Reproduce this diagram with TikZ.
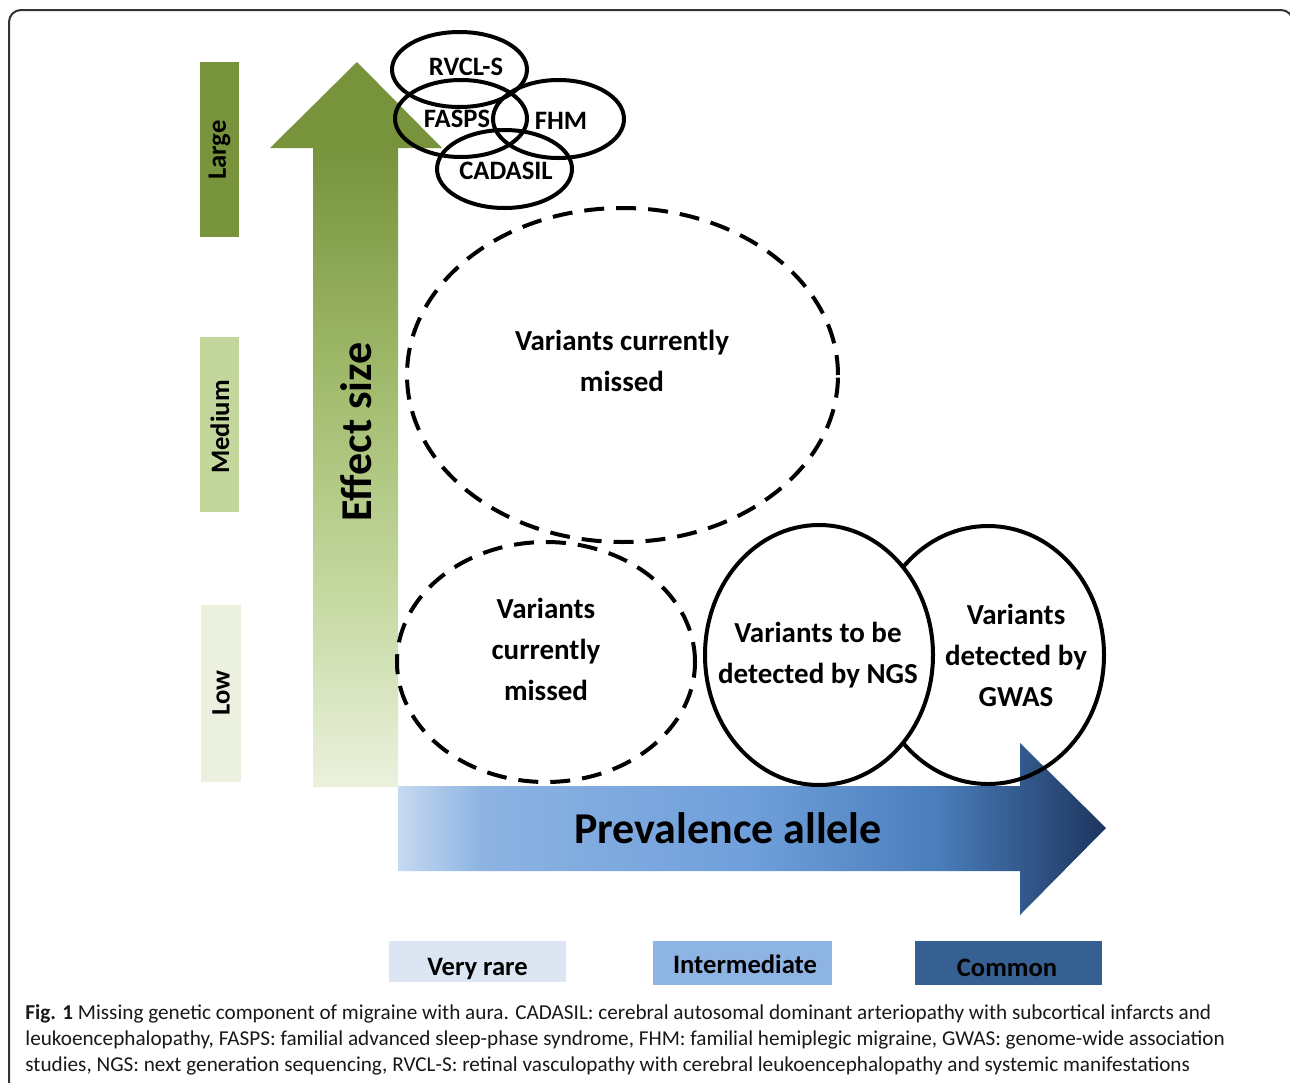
\documentclass[tikz,border=0pt]{standalone}
\usepackage{fontspec}
\setmainfont{Carlito}
\usetikzlibrary{shapes.geometric}
\definecolor{gdark}{HTML}{77933C}
\definecolor{gmid}{HTML}{A3BD70}
\definecolor{gmidl}{HTML}{C6D9A2}
\definecolor{glight}{HTML}{EBF1DE}
\definecolor{gbarm}{HTML}{C3D69B}
\definecolor{b0}{HTML}{C6D9F1}
\definecolor{b1}{HTML}{8DB3E2}
\definecolor{b2}{HTML}{6F9FDB}
\definecolor{b3}{HTML}{4A7EBB}
\definecolor{b4}{HTML}{1C355E}
\definecolor{lrare}{HTML}{DCE6F2}
\definecolor{linter}{HTML}{8EB4E3}
\definecolor{lcommon}{HTML}{376092}
\definecolor{bordergray}{HTML}{333333}
\pgfdeclareverticalshading{greenax}{100bp}{color(0bp)=(glight); color(25bp)=(glight); color(38bp)=(gmidl); color(52bp)=(gmid); color(69bp)=(gdark); color(100bp)=(gdark)}
\pgfdeclarehorizontalshading{blueax}{100bp}{color(0bp)=(b0); color(25bp)=(b0); color(31bp)=(b1); color(50bp)=(b2); color(63bp)=(b3); color(75bp)=(b4); color(100bp)=(b4)}
\begin{document}
\begin{tikzpicture}[x=0.5pt,y=-0.5pt,
  lab/.style={font=\bfseries\fontsize{13.3}{16}\selectfont, text=black},
  bigt/.style={font=\bfseries\fontsize{22}{26}\selectfont, text=black},
  vt/.style={font=\bfseries\fontsize{14.5}{20.5}\selectfont, align=center, text=black},
  ring/.style={draw=black, line width=2pt, ellipse, inner sep=0pt},
  dring/.style={ring, dash pattern=on 10pt off 6pt},
  legbox/.style={inner sep=0pt},
  legtext/.style={lab, anchor=base, inner sep=0pt},
  captext/.style={anchor=base west, inner sep=0pt, font=\fontsize{10.6}{13}\selectfont, text=black!90}]
\useasboundingbox (0,0) rectangle (1290,1082);
\fill[white] (0,0) rectangle (1290,1082);
% border
\draw[bordergray, line width=1pt, rounded corners=6pt] (9,1100) -- (9,10) -- (1293,10) -- (1293,1100);
% effect bars
\fill[gdark] (200,62) rectangle (239,237);
\fill[gbarm] (200,337) rectangle (239,512);
\fill[glight] (201,605) rectangle (241,782);
\node[lab, rotate=90] (large) at (219.5,150) {Large};
\node[lab, rotate=90] (medium) at (220,427) {Medium};
\node[lab, rotate=90] (low) at (221,693) {Low};
% green arrow
\shade[shading=greenax] (313,787) -- (313,148) -- (270,148) -- (357,62) -- (442,148) -- (398,148) -- (398,787) -- cycle;
\node[bigt, rotate=90] (effect) at (356,432) {Effect size};
% blue arrow
\shade[shading=blueax] (398,786) -- (1020,786) -- (1020,743) -- (1106,828) -- (1020,915) -- (1020,871) -- (398,871) -- cycle;
\node[bigt] (prev) at (728,828) {Prevalence allele};
% top ellipses
\node[ring, minimum width=67.5pt, minimum height=37.5pt] (rvcl) at (459.5,69.5) {};
\node[ring, minimum width=66pt, minimum height=38.5pt] (fasps) at (461,118.5) {};
\node[ring, minimum width=65.5pt, minimum height=39pt] (fhm) at (558.5,119) {};
\node[ring, minimum width=67.5pt, minimum height=39pt] (cadasil) at (504.5,169) {};
\node[lab] (trvcl) at (466,67) {RVCL-S};
\node[lab] (tfasps) at (457,119) {FASPS};
\node[lab] (tfhm) at (561,121) {FHM};
\node[lab] (tcadasil) at (506,171) {CADASIL};
% big ellipses
\node[dring, minimum width=215.5pt, minimum height=167pt] (miss1) at (622.5,375) {};
\node[vt] (tmiss1) at (622,361) {Variants currently\\missed};
\node[dring, minimum width=149pt, minimum height=120pt] (miss2) at (546,662) {};
\node[vt] (tmiss2) at (546,649) {Variants\\currently\\missed};
\node[ring, minimum width=116pt, minimum height=129pt] (gwas) at (988,655) {};
\node[ring, fill=white, minimum width=114pt, minimum height=130pt] (ngs) at (819,655) {};
\node[vt] (tngs) at (818,655) {Variants to be\\detected by NGS};
\node[vt] (tgwas) at (1016,655) {Variants\\detected by\\GWAS};
% legend
\fill[lrare] (389,941) rectangle (566,982);
\fill[linter] (653,941) rectangle (832,985);
\fill[lcommon] (915,941) rectangle (1102,985);
\node[legtext] (rare) at (477.5,975) {Very rare};
\node[legtext] (inter) at (745,973) {Intermediate};
\node[legtext] (common) at (1007,976) {Common};
% caption
\node[captext] (cap1) at (25,1019) {\textbf{Fig. 1} Missing genetic component of migraine with aura. CADASIL: cerebral autosomal dominant arteriopathy with subcortical infarcts and};
\node[captext] (cap2) at (25,1045) {leukoencephalopathy, FASPS: familial advanced sleep-phase syndrome, FHM: familial hemiplegic migraine, GWAS: genome-wide association};
\node[captext] (cap3) at (25,1071) {studies, NGS: next generation sequencing, RVCL-S: retinal vasculopathy with cerebral leukoencephalopathy and systemic manifestations};
\end{tikzpicture}
\end{document}
